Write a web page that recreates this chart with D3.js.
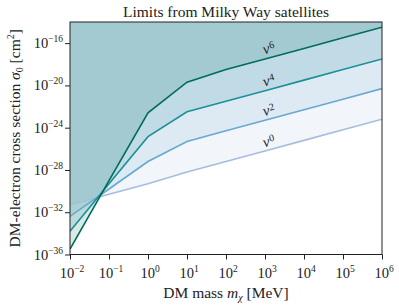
<!DOCTYPE html>
<html><head><meta charset="utf-8">
<script src="https://cdn.jsdelivr.net/npm/d3@7"></script>
<style>body{margin:0;background:#fff}svg{display:block}text{font-family:"Liberation Serif","DejaVu Serif",serif;fill:#222}</style>
</head><body>
<svg id="c" width="399" height="305"></svg>
<script>
const masses = [1e-2, 1e-1, 1, 10, 100, 1e3, 1e4, 1e5, 1e6];
const logV0 = [-31.3, -30.3, -29.3, -28.2, -27.2, -26.2, -25.2, -24.2, -23.2];
const logV2 = [-32.4, -29.8, -27.2, -25.3, -24.3, -23.3, -22.3, -21.3, -20.3];
const logV4 = [-33.8, -29.3, -24.85, -22.5, -21.5, -20.5, -19.5, -18.5, -17.5];
const logV6 = [-35.5, -29.0, -22.6, -19.7, -18.5, -17.5, -16.5, -15.5, -14.5];
const seriesNames = ["0", "2", "4", "6"];
const seriesColors = ["#a6bddb", "#67a9cf", "#1c9099", "#016c59"];
const xTickExps = [-2, -1, 0, 1, 2, 3, 4, 5, 6];
const yTickExps = [-36, -32, -28, -24, -20, -16];
const labelMass = 1e3;
const titleText = "Limits from Milky Way satellites";

const svg = d3.select("#c");
const L = 70, R = 382, T = 22, B = 254.5;
const x = d3.scaleLog().domain([1e-2, 1e6]).range([L, R]);
const y = d3.scaleLog().domain([1e-36, 1e-14]).range([B, T]);

const allLogs = [logV0, logV2, logV4, logV6];
const series = allLogs.map((ls, i) => ({name: seriesNames[i], color: seriesColors[i],
  pts: masses.map((m, j) => ({m, s: Math.pow(10, ls[j])}))}));

const defs = svg.append("defs");
defs.append("clipPath").attr("id", "clip").append("rect").attr("x", L).attr("y", T).attr("width", R - L).attr("height", B - T);
const g = svg.append("g").attr("clip-path", "url(#clip)");

const area = d3.area().x(d => x(d.m)).y0(y(1e-14)).y1(d => y(d.s));
series.forEach(s => {
  g.append("path").datum(s.pts).attr("d", area).attr("fill", s.color).attr("fill-opacity", 0.15);
});
const line = d3.line().x(d => x(d.m)).y(d => y(d.s));
series.forEach(s => {
  g.append("path").datum(s.pts).attr("d", line).attr("fill", "none").attr("stroke", s.color).attr("stroke-width", 1.6);
});

// labels
const ang = -Math.atan((y(1e-20) - y(1e-19)) / (x(1e4) - x(1e3))) * 180 / Math.PI;
const labelOffsets = [5, 5.5, 5.5, 6];
series.forEach((s, i) => {
  const j = masses.indexOf(labelMass);
  const px = x(labelMass) + 5, py = y(s.pts[j].s) - labelOffsets[i];
  const t = svg.append("text").attr("transform", `translate(${px},${py}) rotate(${ang})`)
    .attr("text-anchor", "middle").attr("font-size", 15);
  t.append("tspan").attr("font-style", "italic").text("v");
  t.append("tspan").attr("font-size", 10).attr("dx", 0.5).attr("dy", -4).text(s.name);
});

// frame
svg.append("rect").attr("x", L).attr("y", T).attr("width", R - L).attr("height", B - T)
  .attr("fill", "none").attr("stroke", "#222").attr("stroke-width", 1);

// axes
const xAxis = d3.axisBottom(x).tickValues(xTickExps.map(e => Math.pow(10, e))).tickSize(5).tickFormat("");
const gx = svg.append("g").attr("transform", `translate(0,${B})`).call(xAxis);
gx.select(".domain").remove();
gx.selectAll("line").attr("stroke", "#222");
const yAxis = d3.axisLeft(y).tickValues(yTickExps.map(e => Math.pow(10, e))).tickSize(5).tickFormat("");
const gy = svg.append("g").attr("transform", `translate(${L},0)`).call(yAxis);
gy.select(".domain").remove();
gy.selectAll("line").attr("stroke", "#222");

function pow10(sel, e) {
  sel.append("tspan").text("10");
  sel.append("tspan").attr("font-size", 9.5).attr("dy", -6).text(e < 0 ? "\u2212" + (-e) : String(e));
}
xTickExps.forEach(e => {
  const t = svg.append("text").attr("x", x(Math.pow(10, e)) + 2).attr("y", B + 23).attr("text-anchor", "middle").attr("font-size", 14.5);
  pow10(t, e);
});
yTickExps.forEach(e => {
  const t = svg.append("text").attr("x", L - 7).attr("y", y(Math.pow(10, e)) + 5).attr("text-anchor", "end").attr("font-size", 14.5);
  pow10(t, e);
});

// title
svg.append("text").attr("x", (L + R) / 2).attr("y", 17).attr("text-anchor", "middle").attr("font-size", 15.5).text(titleText);

// x label
const xl = svg.append("text").attr("x", (L + R) / 2).attr("y", 298).attr("text-anchor", "middle").attr("font-size", 15.5);
xl.append("tspan").text("DM mass ");
xl.append("tspan").attr("font-style", "italic").text("m");
xl.append("tspan").attr("font-style", "italic").attr("font-size", 10).attr("dy", 3).text("\u03c7");
xl.append("tspan").attr("dy", -3).text(" [MeV]");

// y label
const yl = svg.append("text").attr("transform", `translate(20,${(T + B) / 2}) rotate(-90)`).attr("text-anchor", "middle").attr("font-size", 15.5);
yl.append("tspan").text("DM-electron cross section ");
yl.append("tspan").attr("font-style", "italic").text("\u03c3");
yl.append("tspan").attr("font-size", 10).attr("dy", 3).text("0");
yl.append("tspan").attr("dy", -3).text(" [cm");
yl.append("tspan").attr("font-size", 10).attr("dy", -6).text("2");
yl.append("tspan").attr("dy", 6).text("]");
</script>
</body></html>
